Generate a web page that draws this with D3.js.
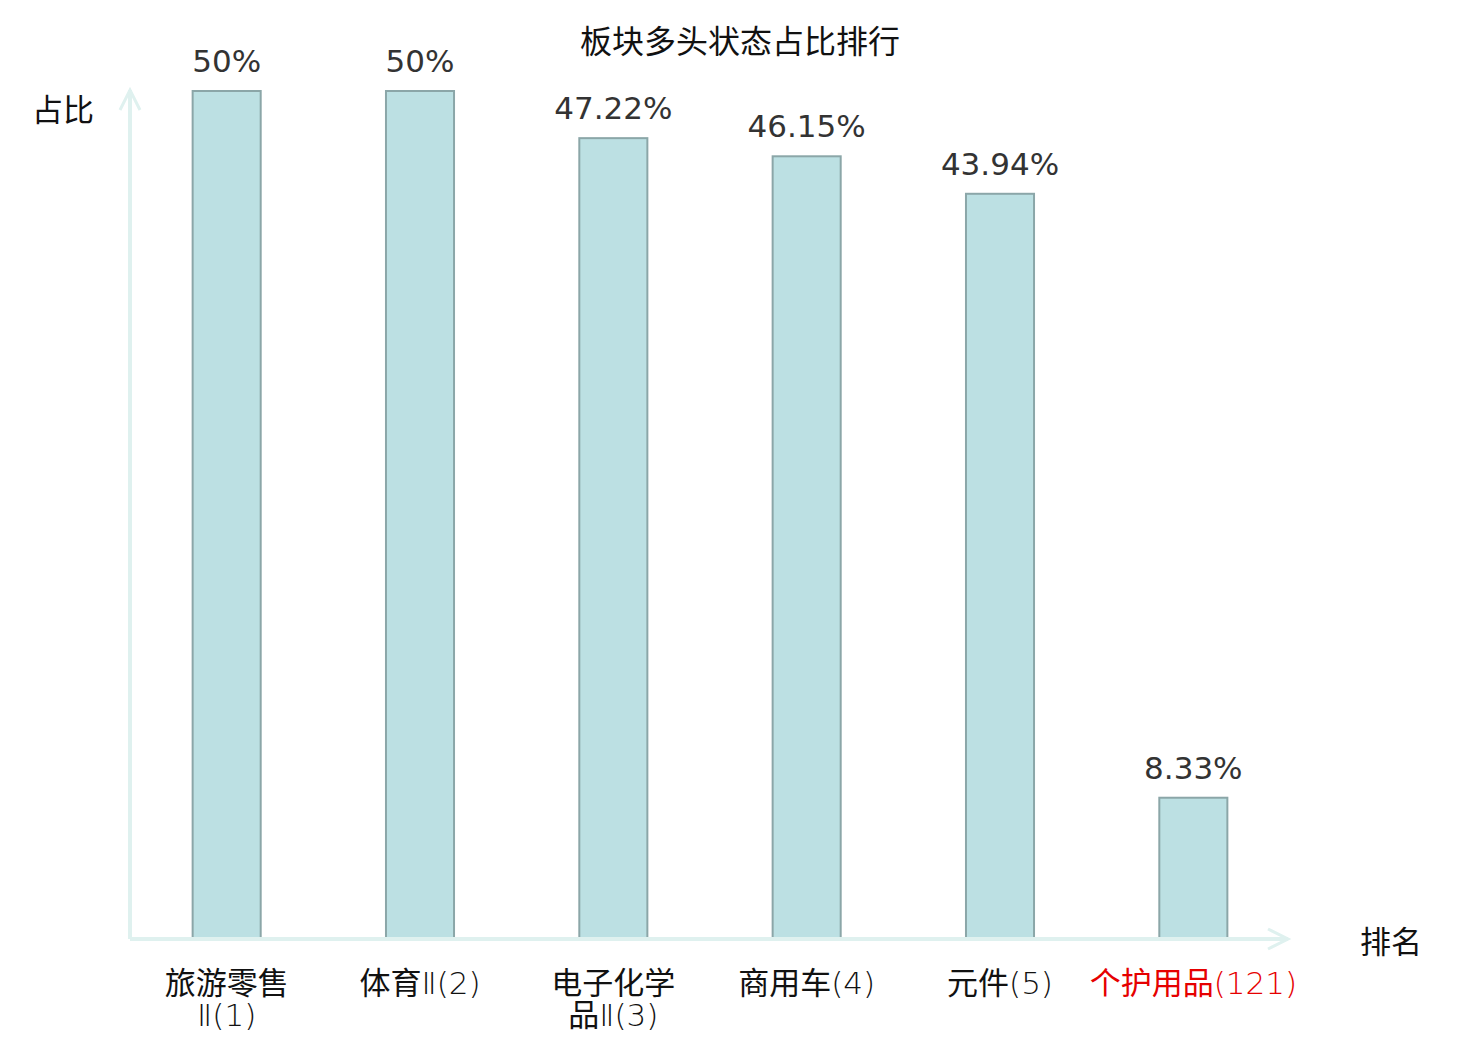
<!DOCTYPE html>
<html>
<head>
<meta charset="utf-8">
<script src="https://cdn.jsdelivr.net/npm/d3@7"></script>
<style>
  body { margin: 0; background: #fff; }
  text { font-family: "DejaVu Sans", "Noto Sans CJK SC", sans-serif; }
</style>
</head>
<body>
<div id="chart"></div>
<script>
// data
var names = ["旅游零售Ⅱ", "体育Ⅱ", "电子化学品Ⅱ", "商用车", "元件", "个护用品"];
var ranks = [1, 2, 3, 4, 5, 121];
var values = [50, 50, 47.22, 46.15, 43.94, 8.33];
var valueLabels = ["50%", "50%", "47.22%", "46.15%", "43.94%", "8.33%"];
var title = "板块多头状态占比排行";
var yName = "占比", xName = "排名";

var W = 1480, H = 1040;
var svg = d3.select("#chart").append("svg").attr("width", W).attr("height", H);

var x0 = 130, x1 = 1290, yBase = 939, yTop = 91;
var x = d3.scaleBand().domain(d3.range(names.length)).range([x0, x1]);
var y = d3.scaleLinear().domain([0, 50]).range([yBase, yTop]);
var bw = x.bandwidth() * 0.352;

var axisCol = "#dff1ef";

// title
svg.append("text").attr("x", 740).attr("y", 53).attr("text-anchor", "middle")
  .attr("font-size", 32).attr("fill", "#111").text(title);

// bars
svg.selectAll("rect.bar").data(values).enter().append("rect")
  .attr("class", "bar")
  .attr("x", function(d, i){ return x(i) + x.bandwidth()/2 - bw/2 })
  .attr("y", function(d){ return y(d) })
  .attr("width", bw)
  .attr("height", function(d){ return yBase - y(d) })
  .attr("fill", "#bce0e3")
  .attr("stroke", "#8ba6a8")
  .attr("stroke-width", 2);

// value labels
svg.selectAll("text.val").data(values).enter().append("text")
  .attr("class", "val")
  .attr("x", function(d, i){ return x(i) + x.bandwidth()/2 })
  .attr("y", function(d){ return y(d) - 19 })
  .attr("text-anchor", "middle")
  .attr("font-size", 31)
  .attr("fill", "#333")
  .text(function(d, i){ return valueLabels[i] });

// axes with arrows
svg.append("line").attr("x1", x0).attr("y1", yBase).attr("x2", 1288).attr("y2", yBase)
  .attr("stroke", axisCol).attr("stroke-width", 4);
svg.append("path").attr("d", "M1268," + (yBase - 10) + "L1288," + yBase + "L1268," + (yBase + 10))
  .attr("fill", "none").attr("stroke", axisCol).attr("stroke-width", 3);
svg.append("line").attr("x1", x0).attr("y1", yBase).attr("x2", x0).attr("y2", 90)
  .attr("stroke", axisCol).attr("stroke-width", 4);
svg.append("path").attr("d", "M" + (x0 - 10) + ",110L" + x0 + ",90L" + (x0 + 10) + ",110")
  .attr("fill", "none").attr("stroke", axisCol).attr("stroke-width", 3);

// axis names
svg.append("text").attr("x", 63).attr("y", 121).attr("text-anchor", "middle")
  .attr("font-size", 31).attr("fill", "#111").text(yName);
svg.append("text").attr("x", 1391).attr("y", 953).attr("text-anchor", "middle")
  .attr("font-size", 31).attr("fill", "#111").text(xName);

// category labels, long names wrap after four chars; latin parts drawn thin
function addRun(t, s, first, cx) {
  var parts = s.match(/[\u4e00-\u9fff]+|[^\u4e00-\u9fff]+/g);
  parts.forEach(function(p, k){
    var sp = t.append("tspan").text(p);
    if (k == 0) sp.attr("x", cx).attr("dy", first ? 0 : 32);
    if (!/[\u4e00-\u9fff]/.test(p)) sp.attr("font-weight", 200);
  });
}
names.forEach(function(n, i){
  var cx = x(i) + x.bandwidth()/2;
  var tail = "(" + ranks[i] + ")";
  var lines = n.length > 4 ? [n.slice(0, 4), n.slice(4) + tail] : [n + tail];
  var t = svg.append("text")
    .attr("x", cx)
    .attr("y", 994)
    .attr("text-anchor", "middle")
    .attr("font-size", 31)
    .attr("fill", i == names.length - 1 ? "#e60000" : "#111");
  lines.forEach(function(l, k){ addRun(t, l, k == 0, cx) });
});
</script>
</body>
</html>
